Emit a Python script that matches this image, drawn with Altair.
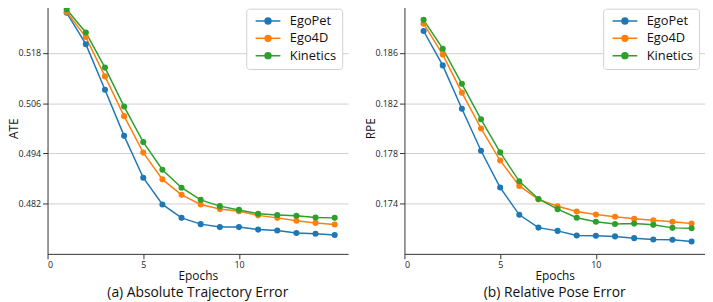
import altair as alt
import pandas as pd

epochs = [1, 2, 3, 4, 5, 6, 7, 8, 9, 10, 11, 12, 13, 14, 15]
datasets = ["EgoPet", "Ego4D", "Kinetics"]
colors = ["#1f77b4", "#ff7f0e", "#2ca02c"]

egopet_ate = [0.5276, 0.5201, 0.5092, 0.4982, 0.4882, 0.4818, 0.4786, 0.4771, 0.4764, 0.4764, 0.4758, 0.4756, 0.4750, 0.4748, 0.4745]
ego4d_ate = [0.5278, 0.5218, 0.5124, 0.5029, 0.4942, 0.4878, 0.4841, 0.4818, 0.4807, 0.4802, 0.4792, 0.4786, 0.4779, 0.4774, 0.4770]
kinetics_ate = [0.5284, 0.5229, 0.5145, 0.5052, 0.4967, 0.4901, 0.4858, 0.4829, 0.4814, 0.4805, 0.4796, 0.4793, 0.4791, 0.4787, 0.4786]

egopet_rpe = [0.18775, 0.18501, 0.18156, 0.17821, 0.17528, 0.17311, 0.17209, 0.17183, 0.17146, 0.17144, 0.17139, 0.17125, 0.17115, 0.17112, 0.17099]
ego4d_rpe = [0.18833, 0.18587, 0.18284, 0.17999, 0.17743, 0.17541, 0.17434, 0.17379, 0.17337, 0.17313, 0.17295, 0.17280, 0.17267, 0.17256, 0.17241]
kinetics_rpe = [0.18864, 0.18634, 0.18354, 0.18072, 0.17808, 0.17578, 0.17437, 0.17356, 0.17288, 0.17256, 0.17238, 0.17241, 0.17231, 0.17207, 0.17204]

x_ticks = [0, 5, 10]
ate_ticks = [0.482, 0.494, 0.506, 0.518]
rpe_ticks = [0.174, 0.178, 0.182, 0.186]


def long_df(series_list):
    rows = []
    for name, vals in zip(datasets, series_list):
        for e, v in zip(epochs, vals):
            rows.append({"Epoch": e, "Value": v, "Dataset": name})
    return pd.DataFrame(rows)


ate_df = long_df([egopet_ate, ego4d_ate, kinetics_ate])
rpe_df = long_df([egopet_rpe, ego4d_rpe, kinetics_rpe])

FONT = "Open Sans"
SYMBOL = "M-0.6,0L4.4,0M2.5,0A0.6,0.6,0,1,1,1.3,0A0.6,0.6,0,1,1,2.5,0Z"


def panel(df, ytitle, yticks, ydomain, caption):
    legend = alt.Legend(
        title=None,
        orient="top-right",
        offset=6,
        strokeColor="#d0d0d0",
        fillColor="white",
        cornerRadius=3,
        padding=6,
        symbolType=SYMBOL,
        symbolSize=100,
        symbolStrokeWidth=1.5,
        labelOffset=25,
        labelFont=FONT,
        labelFontSize=13,
        labelColor="#111",
        rowPadding=3.5,
    )
    base = alt.Chart(df).encode(
        x=alt.X(
            "Epoch:Q",
            scale=alt.Scale(domain=[0, 15.7], nice=False, zero=False),
            axis=alt.Axis(values=x_ticks, title="Epochs", grid=False, format="d"),
        ),
        y=alt.Y(
            "Value:Q",
            scale=alt.Scale(domain=ydomain, nice=False, zero=False),
            axis=alt.Axis(values=yticks, title=ytitle, grid=True, format=".3f"),
        ),
        color=alt.Color(
            "Dataset:N",
            scale=alt.Scale(domain=datasets, range=colors),
            sort=datasets,
            legend=legend,
        ),
    )
    line = base.mark_line(strokeWidth=1.5)
    pts = base.mark_circle(size=38, opacity=1)
    return alt.layer(line, pts).properties(
        width=304,
        height=254,
        title=alt.TitleParams(
            caption,
            orient="bottom",
            font=FONT,
            fontSize=14,
            fontWeight="normal",
            color="#111",
            offset=5,
        ),
    )


left = panel(ate_df, "ATE", ate_ticks, [0.470, 0.530], "(a) Absolute Trajectory Error")
right = panel(rpe_df, "RPE", rpe_ticks, [0.170, 0.190], "(b) Relative Pose Error")

chart = (
    alt.hconcat(left, right, spacing=17)
    .resolve_scale(color="independent", y="independent")
    .resolve_legend(color="independent")
    .properties(padding={"left": 0, "top": -7, "right": 0, "bottom": 0})
    .configure_view(stroke=None)
    .configure_axis(
        labelFont=FONT,
        labelFontSize=9,
        labelColor="#222",
        titleFont=FONT,
        titleFontSize=12,
        titleFontWeight="normal",
        titleColor="#111",
        domainColor="#333",
        domainWidth=1,
        tickColor="#333",
        tickSize=5,
        labelPadding=2,
        gridColor="#d0d0d0",
        gridWidth=1,
    )
    .configure_axisY(titlePadding=-3)
    .configure_axisX(titlePadding=1)
)

chart.save("out.html", embed_options={"renderer": "svg", "actions": False})
